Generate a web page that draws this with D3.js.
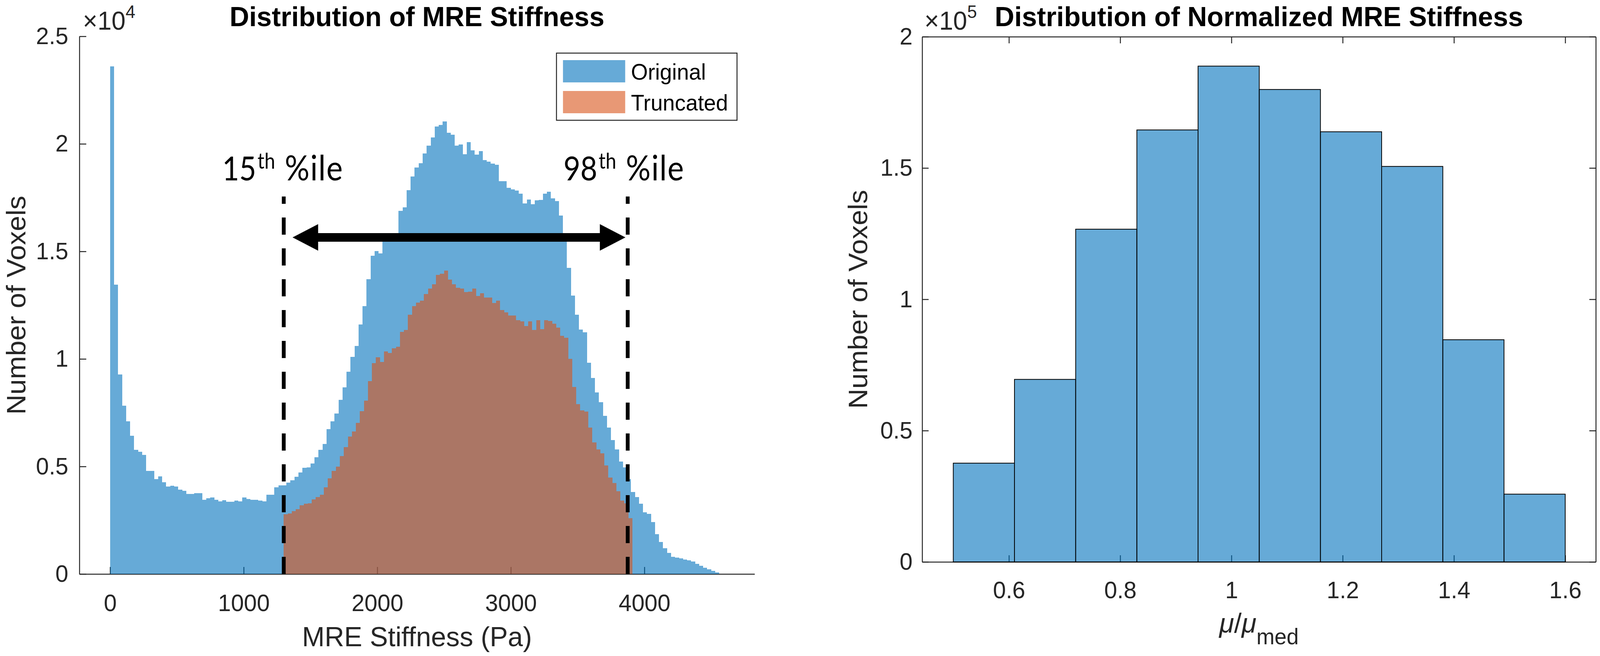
<!DOCTYPE html>
<html>
<head>
<meta charset="utf-8">
<script src="https://cdn.jsdelivr.net/npm/d3@7"></script>
<style>
  html, body { margin: 0; padding: 0; background: #fff; overflow: hidden; }
  svg { display: block; width: 100vw; height: 100vh; }
</style>
</head>
<body>
<svg id="fig" viewBox="0 0 4192 1680" preserveAspectRatio="none"></svg>
<script>
// ---- data ----
// left panel: 30 Pa bins starting at 0 Pa
const origBinStart = 0;
const binWidth = 30;
const originalCounts = [
  23600, 13460, 9270, 7830, 7100, 6430, 5780, 5690, 5530, 4800,
  4800, 4420, 4540, 4260, 4070, 4100, 4070, 3920, 3860, 3720,
  3720, 3750, 3750, 3450, 3520, 3560, 3450, 3380, 3440, 3360,
  3360, 3410, 3380, 3560, 3480, 3450, 3450, 3420, 3380, 3680,
  3680, 4030, 4130, 4130, 4240, 4350, 4520, 4720, 4930, 4960,
  5140, 5420, 5770, 6040, 6740, 7090, 7460, 8100, 8680, 9410,
  10100, 10600, 11600, 12460, 13710, 14800, 15010, 14910, 15500, 15600,
  15700, 15800, 16880, 17050, 17850, 18480, 18900, 19100, 19550, 19910,
  20290, 20810, 20880, 21050, 20520, 20420, 19910, 19970, 19520, 20080,
  19700, 19490, 19660, 19240, 19170, 19080, 19030, 18270, 18270, 17960,
  17880, 17820, 17690, 17230, 17410, 17190, 17370, 17400, 17690, 17780,
  17460, 17330, 16670, 15630, 14240, 12950, 12050, 11360, 11230, 9820,
  9110, 8450, 7980, 7360, 6800, 6230, 5800, 5230, 4950, 4420,
  3820, 3570, 3270, 2860, 2790, 2420, 1860, 1480, 1190, 980,
  790, 760, 730, 670, 630, 580, 480, 380, 290, 210,
  140, 70
];
// truncated data: 30 Pa bins starting at the 15th percentile
const truncBinStart = 1300;
const truncatedCounts = [
  2780, 2820, 2920, 3010, 3200, 3260, 3290, 3470, 3570, 3680,
  4030, 4450, 4790, 5000, 5490, 5900, 6390, 6630, 7020, 7570,
  8060, 8960, 9800, 10070, 9860, 10350, 10280, 10490, 10560, 11250,
  11350, 12050, 12460, 12620, 12710, 13020, 13270, 13480, 13900, 13960,
  14100, 13690, 13480, 13300, 13270, 13100, 13130, 13270, 12920, 13060,
  12850, 12850, 12600, 12710, 12270, 12160, 12020, 12020, 11810, 11740,
  11530, 11740, 11350, 11810, 11390, 11810, 11760, 11630, 11460, 11070,
  10980, 10000, 8700, 7900, 7610, 7550, 6800, 6110, 5800, 5610,
  5050, 4480, 4230, 3850, 3420, 3290, 2600
];
const percentiles = [
  { ordinal: '15', value: 1300, labelAt: 840 },
  { ordinal: '98', value: 3875, labelAt: 3394 }
];
const percentileLineTop = 17550;
const arrowSpan = [1366, 3858];
const arrowLevel = 15650;
const labelLevel = 18300;
const legendItems = ['Original', 'Truncated'];

const leftXTicks = [0, 1000, 2000, 3000, 4000];
const leftYTicks = [0, 5000, 10000, 15000, 20000, 25000];
const leftYTickLabels = ['0', '0.5', '1', '1.5', '2', '2.5'];

// right panel: normalized stiffness
const normEdges = [0.50, 0.61, 0.72, 0.83, 0.94, 1.05, 1.16, 1.27, 1.38, 1.49, 1.60];
const normCounts = [37600, 69500, 126700, 164500, 188800, 179900, 163800, 150600, 84600, 25800];
const rightXTicks = [0.6, 0.8, 1, 1.2, 1.4, 1.6];
const rightXTickLabels = ['0.6', '0.8', '1', '1.2', '1.4', '1.6'];
const rightYTicks = [0, 50000, 100000, 150000, 200000];
const rightYTickLabels = ['0', '0.5', '1', '1.5', '2'];

// ---- styles ----
const AXIS_COLOR = '#262626';
const SANS = '"Liberation Sans", Arial, Helvetica, sans-serif';
const NOTE_FONT = 'Lato, "Open Sans", sans-serif';
const BLUE = 'rgb(0,114,189)';
const ORANGE = 'rgb(217,83,25)';
const TICK_SIZE = 61;
const LABEL_SIZE = 71;

const svg = d3.select('#fig');
svg.append('rect').attr('width', 4192).attr('height', 1680).attr('fill', '#fff');

function styleAxis(g) {
  g.attr('font-family', SANS).attr('font-size', TICK_SIZE).attr('color', AXIS_COLOR);
  g.selectAll('path.domain').attr('stroke-width', 2.5);
  g.selectAll('.tick line').attr('stroke-width', 2.5);
  g.selectAll('.tick text').attr('fill', AXIS_COLOR);
}

function exponentLabel(parent, x, power) {
  const t = parent.append('text')
    .attr('x', x).attr('y', 76)
    .attr('font-family', SANS).attr('font-size', 66).attr('fill', AXIS_COLOR)
    .text('\u00d710');
  t.append('tspan').attr('font-size', 46).attr('dy', -30).text(power);
}

// ================= left panel =================
const xL = d3.scaleLinear().domain([-230, 4825]).range([208, 1977]);
const yL = d3.scaleLinear().domain([0, 25000]).range([1470, 93]);
const left = svg.append('g');

left.append('g')
  .attr('transform', `translate(0,${yL(0)})`)
  .call(d3.axisBottom(xL).tickValues(leftXTicks).tickFormat(d3.format('d'))
    .tickSizeInner(-18).tickSizeOuter(0).tickPadding(52))
  .call(styleAxis);

left.append('g')
  .attr('transform', `translate(${xL.range()[0]},0)`)
  .call(d3.axisLeft(yL).tickValues(leftYTicks).tickFormat((d, i) => leftYTickLabels[i])
    .tickSizeInner(-18).tickSizeOuter(0).tickPadding(29))
  .call(styleAxis);

left.append('g').selectAll('rect')
  .data(originalCounts)
  .join('rect')
  .attr('x', (d, i) => xL(origBinStart + i * binWidth))
  .attr('width', (d, i) => xL(origBinStart + (i + 1) * binWidth) - xL(origBinStart + i * binWidth))
  .attr('y', d => yL(d))
  .attr('height', d => yL(0) - yL(d))
  .attr('fill', BLUE)
  .attr('fill-opacity', 0.6)
  .attr('shape-rendering', 'crispEdges');

left.append('g').selectAll('rect')
  .data(truncatedCounts)
  .join('rect')
  .attr('x', (d, i) => xL(truncBinStart + i * binWidth))
  .attr('width', (d, i) => xL(truncBinStart + (i + 1) * binWidth) - xL(truncBinStart + i * binWidth))
  .attr('y', d => yL(d))
  .attr('height', d => yL(0) - yL(d))
  .attr('fill', ORANGE)
  .attr('fill-opacity', 0.6)
  .attr('shape-rendering', 'crispEdges');

// percentile markers
left.append('g').selectAll('line')
  .data(percentiles)
  .join('line')
  .attr('x1', d => xL(d.value)).attr('x2', d => xL(d.value))
  .attr('y1', yL(0)).attr('y2', yL(percentileLineTop))
  .attr('stroke', '#000').attr('stroke-width', 10)
  .attr('stroke-dasharray', '44 35');

// double-headed arrow
{
  const a1 = xL(arrowSpan[0]), a2 = xL(arrowSpan[1]), ay = yL(arrowLevel);
  const headLen = 67, headHalf = 34, shaft = 11;
  const p = d3.path();
  p.moveTo(a1, ay);
  p.lineTo(a1 + headLen, ay - headHalf);
  p.lineTo(a1 + headLen, ay - shaft);
  p.lineTo(a2 - headLen, ay - shaft);
  p.lineTo(a2 - headLen, ay - headHalf);
  p.lineTo(a2, ay);
  p.lineTo(a2 - headLen, ay + headHalf);
  p.lineTo(a2 - headLen, ay + shaft);
  p.lineTo(a1 + headLen, ay + shaft);
  p.lineTo(a1 + headLen, ay + headHalf);
  p.closePath();
  left.append('path').attr('d', p.toString()).attr('fill', '#000');
}

// "15th %ile" / "98th %ile" notes (narrow humanist face, squeezed a little)
const notes = left.append('g').selectAll('text')
  .data(percentiles)
  .join('text')
  .attr('transform', d => `translate(${xL(d.labelAt)},${yL(labelLevel)}) scale(0.9,1)`)
  .attr('font-family', NOTE_FONT)
  .attr('font-size', 85)
  .attr('fill', '#000')
  .text(d => d.ordinal);
notes.append('tspan').attr('font-size', 56).attr('dx', 4).attr('dy', -30).text('th');
notes.append('tspan').attr('dx', 28).attr('dy', 30).attr('font-size', 90).attr('letter-spacing', 2).text('%ile');

// legend
{
  const lg = left.append('g');
  lg.append('rect').attr('x', 1458).attr('y', 136).attr('width', 473).attr('height', 172)
    .attr('fill', '#fff').attr('stroke', AXIS_COLOR).attr('stroke-width', 2.5);
  const colors = [BLUE, ORANGE];
  const rows = lg.selectAll('g.item').data(legendItems).join('g')
    .attr('class', 'item')
    .attr('transform', (d, i) => `translate(1475,${154 + i * 79})`);
  rows.append('rect').attr('width', 163).attr('height', 57)
    .attr('fill', (d, i) => colors[i]).attr('fill-opacity', 0.6);
  rows.append('text').attr('x', 178).attr('y', 50)
    .attr('font-family', SANS).attr('font-size', 57).attr('fill', '#000')
    .text(d => d);
}

const lcx = (xL.range()[0] + xL.range()[1]) / 2;
left.append('text').attr('x', lcx).attr('y', 67)
  .attr('text-anchor', 'middle').attr('font-family', SANS).attr('font-weight', 'bold')
  .attr('font-size', LABEL_SIZE).attr('fill', '#000')
  .text('Distribution of MRE Stiffness');
left.append('text').attr('x', lcx).attr('y', 1655)
  .attr('text-anchor', 'middle').attr('font-family', SANS)
  .attr('font-size', LABEL_SIZE).attr('fill', AXIS_COLOR)
  .text('MRE Stiffness (Pa)');
left.append('text')
  .attr('transform', `translate(67,${(yL.range()[0] + yL.range()[1]) / 2}) rotate(-90)`)
  .attr('text-anchor', 'middle').attr('font-family', SANS)
  .attr('font-size', LABEL_SIZE).attr('fill', AXIS_COLOR)
  .text('Number of Voxels');
exponentLabel(left, 217, '4');

// ================= right panel =================
const xR = d3.scaleLinear().domain([0.444, 1.655]).range([2416, 4181]);
const yR = d3.scaleLinear().domain([0, 200000]).range([1439, 94]);
const right = svg.append('g');

right.append('g')
  .attr('transform', `translate(0,${yR(0)})`)
  .call(d3.axisBottom(xR).tickValues(rightXTicks).tickFormat((d, i) => rightXTickLabels[i])
    .tickSizeInner(-17).tickSizeOuter(0).tickPadding(50))
  .call(styleAxis);
right.append('g')
  .attr('transform', `translate(0,${yR.range()[1]})`)
  .call(d3.axisTop(xR).tickValues(rightXTicks).tickFormat('')
    .tickSizeInner(-17).tickSizeOuter(0))
  .call(styleAxis);
right.append('g')
  .attr('transform', `translate(${xR.range()[0]},0)`)
  .call(d3.axisLeft(yR).tickValues(rightYTicks).tickFormat((d, i) => rightYTickLabels[i])
    .tickSizeInner(-17).tickSizeOuter(0).tickPadding(25))
  .call(styleAxis);
right.append('g')
  .attr('transform', `translate(${xR.range()[1]},0)`)
  .call(d3.axisRight(yR).tickValues(rightYTicks).tickFormat('')
    .tickSizeInner(-17).tickSizeOuter(0))
  .call(styleAxis);

right.append('g').selectAll('rect')
  .data(normCounts)
  .join('rect')
  .attr('x', (d, i) => xR(normEdges[i]))
  .attr('width', (d, i) => xR(normEdges[i + 1]) - xR(normEdges[i]))
  .attr('y', d => yR(d))
  .attr('height', d => yR(0) - yR(d))
  .attr('fill', BLUE)
  .attr('fill-opacity', 0.6)
  .attr('stroke', '#000')
  .attr('stroke-width', 2);

const rcx = (xR.range()[0] + xR.range()[1]) / 2;
right.append('text').attr('x', rcx).attr('y', 67)
  .attr('text-anchor', 'middle').attr('font-family', SANS).attr('font-weight', 'bold')
  .attr('font-size', LABEL_SIZE).attr('fill', '#000')
  .text('Distribution of Normalized MRE Stiffness');
{
  const t = right.append('text').attr('x', rcx).attr('y', 1620)
    .attr('text-anchor', 'middle').attr('font-family', SANS)
    .attr('font-size', LABEL_SIZE).attr('fill', AXIS_COLOR);
  t.append('tspan').attr('font-style', 'italic').text('\u03bc');
  t.append('tspan').text('/');
  t.append('tspan').attr('font-style', 'italic').text('\u03bc');
  t.append('tspan').attr('font-size', 57).attr('dy', 30).text('med');
}
right.append('text')
  .attr('transform', `translate(2272,${(yR.range()[0] + yR.range()[1]) / 2}) rotate(-90)`)
  .attr('text-anchor', 'middle').attr('font-family', SANS)
  .attr('font-size', LABEL_SIZE).attr('fill', AXIS_COLOR)
  .text('Number of Voxels');
exponentLabel(right, 2422, '5');
</script>
</body>
</html>
